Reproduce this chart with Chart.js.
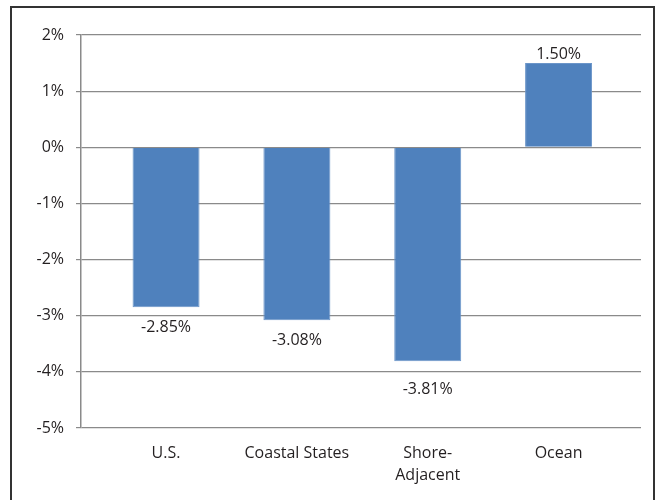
<!DOCTYPE html>
<html>
<head>
<meta charset="utf-8">
<script src="https://cdn.jsdelivr.net/npm/chart.js@4.4.1/dist/chart.umd.min.js"></script>
<style>
  html, body { margin: 0; padding: 0; background: #fff; }
  #wrap { position: relative; width: 662px; height: 500px; overflow: hidden; }
  #frame { position: absolute; left: 10px; top: 6px; width: 645px; height: 520px; border: 2px solid #333; box-sizing: border-box; }
  canvas { position: absolute; left: 0; top: 0; }
</style>
</head>
<body>
<div id="wrap">
  <div id="frame"></div>
  <canvas id="c" width="662" height="500"></canvas>
</div>
<script>
// DATA
const categories = ['U.S.', 'Coastal States', ['Shore-', 'Adjacent'], 'Ocean'];
const changes = [-2.85, -3.08, -3.81, 1.50];
const yTicks = [-5, -4, -3, -2, -1, 0, 1, 2];

const FONT = '"Open Sans", "DejaVu Sans", sans-serif';
const TEXT = '#231f20';
const GRID = '#8a8a8a';
// label distance from bar end (px), the third one sits lower to clear the -4% line
const labelGap = [20, 20, 28, 9];

// value labels at bar ends
const valueLabels = {
    id: 'valueLabels',
    afterDatasetsDraw(chart) {
        const ctx = chart.ctx;
        const meta = chart.getDatasetMeta(0);
        ctx.save();
        ctx.font = '16px ' + FONT;
        ctx.fillStyle = TEXT;
        ctx.textAlign = 'center';
        ctx.textBaseline = 'middle';
        meta.data.forEach((bar, i) => {
            const v = changes[i];
            const y = v >= 0 ? bar.y - labelGap[i] : bar.y + labelGap[i];
            ctx.fillText(v.toFixed(2) + '%', bar.x, y);
        });
        ctx.restore();
    }
};

new Chart(document.getElementById('c'), {
    type: 'bar',
    data: {
        datasets: [{
            data: changes.map((v, i) => ({ x: i, y: v })),
            backgroundColor: '#4f81bd',
            borderColor: '#6b95c9',
            borderWidth: 1,
            barPercentage: 0.512,
            categoryPercentage: 1
        }]
    },
    options: {
        responsive: false,
        animation: false,
        layout: { padding: { top: 35, right: 21, left: 0, bottom: 0 } },
        plugins: { legend: { display: false }, tooltip: { enabled: false } },
        scales: {
            x: {
                type: 'linear',
                min: -0.65,
                max: 3.63,
                offset: false,
                afterBuildTicks: axis => { axis.ticks = categories.map((c, i) => ({ value: i })); },
                afterFit: axis => { axis.height = 72; },
                grid: { display: false, drawTicks: false, offset: false },
                border: { display: false },
                ticks: {
                    autoSkip: false,
                    maxRotation: 0,
                    padding: 15,
                    color: TEXT,
                    font: { family: FONT, size: 16, lineHeight: 1.35 },
                    callback: v => categories[v]
                }
            },
            y: {
                min: -5,
                max: 2,
                afterBuildTicks: axis => { axis.ticks = yTicks.map(v => ({ value: v })); },
                afterFit: axis => { axis.width = 81; },
                grid: { color: GRID, lineWidth: 1.2, tickLength: 5 },
                border: { color: GRID, width: 1.5 },
                ticks: {
                    padding: 12,
                    color: TEXT,
                    font: { family: FONT, size: 16 },
                    callback: v => v + '%'
                }
            }
        }
    },
    plugins: [valueLabels]
});
</script>
</body>
</html>
